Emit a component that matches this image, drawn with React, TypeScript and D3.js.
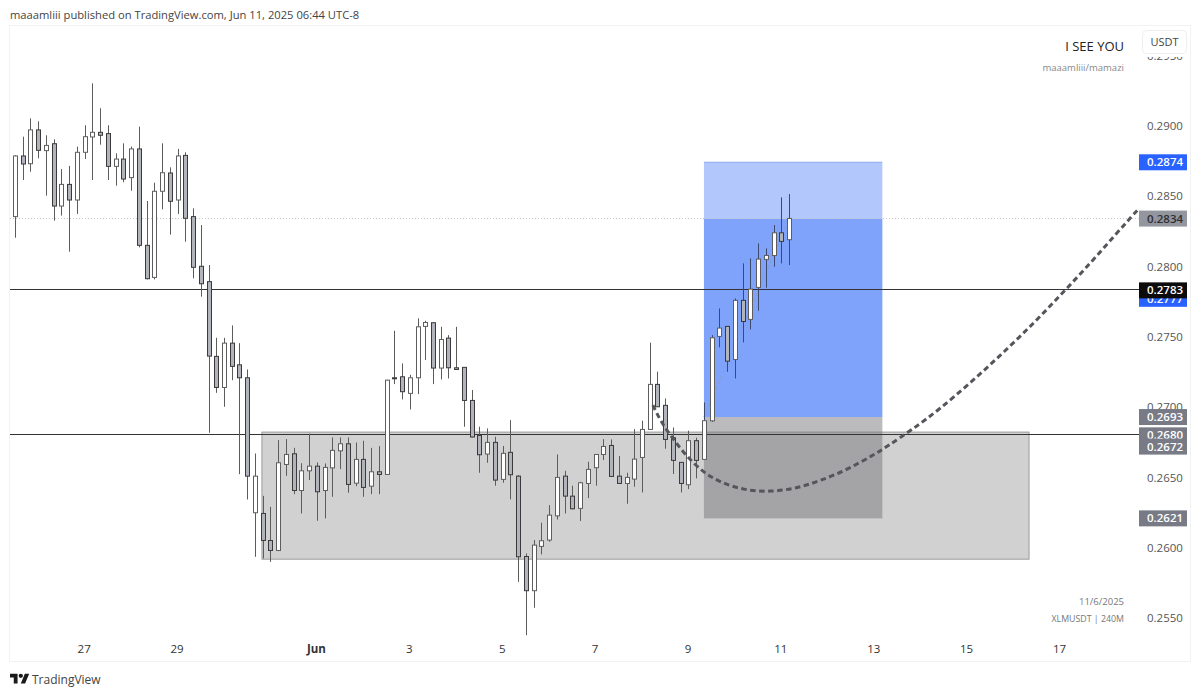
import React, { useEffect, useRef } from 'react';
import * as d3 from 'd3';

const opens = [
  0.28354, 0.28785, 0.2873, 0.2897, 0.28823, 0.28872, 0.28429, 0.28583, 0.28472, 0.28811,
  0.2892, 0.28953, 0.28944, 0.28711, 0.28763, 0.28631, 0.28835, 0.2815, 0.27922, 0.28534,
  0.28664, 0.28472, 0.28789, 0.28354, 0.28001, 0.27892, 0.27361, 0.2714, 0.27455, 0.27301,
  0.27209, 0.2625, 0.26245, 0.26053, 0.25982, 0.26593, 0.26669, 0.26408, 0.26548, 0.26581,
  0.26408, 0.26569, 0.2669, 0.2674, 0.2646, 0.26629, 0.26439, 0.26541, 0.26522, 0.27209,
  0.27216, 0.27098, 0.27209, 0.27574, 0.276, 0.27278, 0.27491, 0.2728, 0.27283, 0.27048,
  0.26799, 0.26667, 0.2675, 0.26487, 0.26679, 0.2651, 0.25939, 0.25696, 0.26011, 0.26056,
  0.26228, 0.2651, 0.26368, 0.26281, 0.26458, 0.2657, 0.26664, 0.26728, 0.2651, 0.26458,
  0.26489, 0.26643, 0.26842, 0.27162, 0.27013, 0.26783, 0.26608, 0.26449, 0.26762, 0.26629,
  0.26903, 0.27503, 0.27574, 0.27339, 0.27759, 0.27624, 0.27851, 0.2805, 0.28078, 0.28239, 0.2819,
];
const highs = [
  0.2879, 0.28922, 0.29052, 0.29031, 0.28932, 0.28903, 0.28692, 0.28714, 0.28851, 0.29003,
  0.29301, 0.29124, 0.29003, 0.28804, 0.28875, 0.28851, 0.28993, 0.28465, 0.28595, 0.28875,
  0.28704, 0.28835, 0.28811, 0.28413, 0.28294, 0.2801, 0.27493, 0.27493, 0.27581, 0.27455,
  0.27268, 0.26671, 0.2637, 0.26292, 0.26766, 0.26773, 0.26711, 0.26602, 0.26813, 0.26607,
  0.266, 0.26785, 0.26785, 0.26785, 0.26749, 0.26761, 0.26711, 0.26723, 0.27195, 0.27543,
  0.27311, 0.2723, 0.27631, 0.27614, 0.27602, 0.27571, 0.27512, 0.27571, 0.27283, 0.27122,
  0.26861, 0.26849, 0.2679, 0.26724, 0.26908, 0.26518, 0.25961, 0.26056, 0.26179, 0.26304,
  0.26664, 0.26548, 0.26442, 0.2647, 0.26612, 0.26664, 0.26773, 0.26771, 0.26653, 0.26534,
  0.26844, 0.26904, 0.27458, 0.27252, 0.27062, 0.26856, 0.2661, 0.26833, 0.26783, 0.27034,
  0.27512, 0.27702, 0.27576, 0.27773, 0.28022, 0.28057, 0.28164, 0.28128, 0.28294, 0.28491, 0.28514,
];
const lows = [
  0.28204, 0.28614, 0.28673, 0.28768, 0.28503, 0.28325, 0.28361, 0.28105, 0.28373, 0.28763,
  0.28614, 0.28865, 0.28614, 0.28574, 0.28598, 0.28538, 0.28136, 0.27908, 0.27908, 0.28406,
  0.28226, 0.28373, 0.28176, 0.27915, 0.27785, 0.26818, 0.27102, 0.27003, 0.27192, 0.26524,
  0.26344, 0.25937, 0.25925, 0.25901, 0.25977, 0.26512, 0.26382, 0.26245, 0.26482, 0.26193,
  0.2621, 0.26363, 0.2656, 0.26392, 0.26439, 0.26363, 0.26382, 0.26382, 0.2652, 0.27164,
  0.27055, 0.26984, 0.27093, 0.27335, 0.27164, 0.27197, 0.27204, 0.27265, 0.26861, 0.26786,
  0.26534, 0.26605, 0.26442, 0.26463, 0.26345, 0.25759, 0.2538, 0.25575, 0.25954, 0.26044,
  0.26202, 0.26245, 0.26274, 0.26191, 0.26354, 0.26442, 0.26624, 0.26506, 0.26455, 0.26314,
  0.26435, 0.26394, 0.2684, 0.27001, 0.26705, 0.26525, 0.26394, 0.26418, 0.26494, 0.26627,
  0.26896, 0.27425, 0.27252, 0.27204, 0.2746, 0.27552, 0.27685, 0.27849, 0.27998, 0.28022, 0.2801,
];
const closes = [
  0.28785, 0.28728, 0.2897, 0.28825, 0.2886, 0.28429, 0.28583, 0.28472, 0.28811, 0.28922,
  0.28953, 0.28932, 0.28711, 0.28763, 0.28621, 0.28835, 0.2815, 0.27913, 0.28534, 0.28666,
  0.28463, 0.28785, 0.28342, 0.27994, 0.27877, 0.27363, 0.2714, 0.27455, 0.2729, 0.27209,
  0.2651, 0.2651, 0.26053, 0.25982, 0.26605, 0.26664, 0.26408, 0.26548, 0.26581, 0.26399,
  0.26572, 0.26693, 0.2674, 0.26451, 0.26629, 0.2643, 0.26541, 0.26522, 0.27192, 0.27202,
  0.2711, 0.27209, 0.27571, 0.27602, 0.27278, 0.27481, 0.2728, 0.27268, 0.27048, 0.26788,
  0.26662, 0.2675, 0.26482, 0.26672, 0.2652, 0.25937, 0.25696, 0.2602, 0.26051, 0.26233,
  0.26501, 0.26368, 0.26278, 0.26463, 0.26558, 0.26664, 0.26721, 0.26508, 0.26458, 0.26501,
  0.26631, 0.26842, 0.27162, 0.27003, 0.26771, 0.26622, 0.26458, 0.26762, 0.26622, 0.26904,
  0.27493, 0.27562, 0.27327, 0.27759, 0.27609, 0.27839, 0.28052, 0.28078, 0.28239, 0.28178, 0.28341,
];

const priceTicks = [0.295, 0.29, 0.285, 0.28, 0.275, 0.27, 0.265, 0.26, 0.255];
const dayTicks = [9, 21, 39, 51, 63, 75, 87, 99, 111, 123, 135];
const dayLabels = ['27', '29', 'Jun', '3', '5', '7', '9', '11', '13', '15', '17'];

// drawn path of the projected move, candle index / price
const pathIdx = [
  82.4, 83.4, 84.8, 86.6, 88.9, 91.1, 94.1, 97.5, 101, 104, 107.4, 110.9, 112.8, 115.8, 119.3, 123.6, 127.8, 131.8,
  135.6, 139.3, 142.3, 145.1,
];
const pathPrice = [
  0.27015, 0.26901, 0.2679, 0.2666, 0.26537, 0.26466, 0.26411, 0.26397, 0.26423, 0.26477, 0.26553, 0.2666, 0.26726,
  0.26837, 0.26979, 0.27181, 0.27394, 0.27607, 0.27827, 0.28046, 0.28235, 0.28406,
];

// price labels on the scale, later ones sit on top
const labelPrices = [0.2874, 0.2834, 0.2777, 0.2783, 0.2693, 0.268, 0.2672, 0.2621];
const labelColors = ['#2962ff', '#93969e', '#2962ff', '#0b0b0b', '#787b86', '#787b86', '#787b86', '#787b86'];
const labelInk = ['#ffffff', '#2f2f33', '#ffffff', '#ffffff', '#ffffff', '#ffffff', '#ffffff', '#ffffff'];

const font = '"Open Sans", sans-serif';

const App: React.FC = () => {
  const svgRef = useRef<SVGSVGElement>(null);

  useEffect(() => {
    if (!svgRef.current) return;
    const svg = d3.select(svgRef.current);
    svg.selectAll('*').remove();

    const x = d3.scaleLinear().domain([0, 135]).range([15, 1060]);
    const y = d3.scaleLinear().domain([0.255, 0.29]).range([618.3, 125.7]);

    svg
      .append('text')
      .attr('x', 10)
      .attr('y', 19)
      .attr('font-family', font)
      .attr('font-size', 11.2)
      .attr('fill', '#444')
      .text('maaamliii published on TradingView.com, Jun 11, 2025 06:44 UTC-8');

    svg
      .append('rect')
      .attr('x', 9.5)
      .attr('y', 25.5)
      .attr('width', 1181)
      .attr('height', 636)
      .attr('fill', '#fff')
      .attr('stroke', '#f2f2f2');

    // price scale
    const yAxis = svg
      .append('g')
      .attr('transform', 'translate(1147,0)')
      .call(d3.axisRight(y).tickValues(priceTicks).tickSize(0).tickPadding(0).tickFormat(d3.format('.4f') as any));
    yAxis.select('.domain').remove();
    yAxis.selectAll('text').attr('font-family', font).attr('font-size', 11.5).attr('fill', '#555');

    // time scale
    const xAxis = svg
      .append('g')
      .attr('transform', 'translate(-1,645)')
      .call(
        d3
          .axisBottom(x)
          .tickValues(dayTicks)
          .tickSize(0)
          .tickPadding(0)
          .tickFormat((_, i) => dayLabels[i]),
      );
    xAxis.select('.domain').remove();
    xAxis
      .selectAll('text')
      .attr('font-family', font)
      .attr('font-size', 11.5)
      .attr('fill', '#333')
      .attr('font-weight', (_, i) => (dayLabels[i] === 'Jun' ? 700 : 400));

    // demand zone
    svg
      .append('rect')
      .attr('x', x(31.9))
      .attr('y', y(0.26823))
      .attr('width', x(131) - x(31.9))
      .attr('height', y(0.2592) - y(0.26823))
      .attr('fill', '#d1d1d1')
      .attr('stroke', '#9b9b9b');

    // long position box
    const boxX = x(89);
    const boxW = x(112.05) - x(89);
    const box = (top: number, bottom: number, fill: string) =>
      svg
        .append('rect')
        .attr('x', boxX)
        .attr('y', y(top))
        .attr('width', boxW)
        .attr('height', y(bottom) - y(top))
        .attr('fill', fill);
    box(0.2874, 0.2834, '#b2c7fc');
    box(0.2834, 0.2693, '#7fa3fb');
    box(0.2693, 0.2621, 'rgba(120,120,123,0.5)');

    svg
      .append('line')
      .attr('x1', boxX)
      .attr('x2', boxX + boxW)
      .attr('y1', y(0.2874))
      .attr('y2', y(0.2874))
      .attr('stroke', '#8ea9f0');

    // last price line
    svg
      .append('line')
      .attr('x1', 10)
      .attr('x2', 1139)
      .attr('y1', y(0.2834))
      .attr('y2', y(0.2834))
      .attr('stroke', '#c4c4c4')
      .attr('stroke-dasharray', '1 2');

    // entry to last price, faint
    svg
      .append('line')
      .attr('x1', x(89))
      .attr('x2', x(100))
      .attr('y1', y(0.2693))
      .attr('y2', y(0.2834))
      .attr('stroke', '#8c9cc4')
      .attr('stroke-dasharray', '3 3');

    // levels
    [0.27836, 0.268].forEach((level) => {
      svg
        .append('line')
        .attr('x1', 10)
        .attr('x2', 1139)
        .attr('y1', Math.round(y(level)) - 0.5)
        .attr('y2', Math.round(y(level)) - 0.5)
        .attr('stroke', '#333')
        .attr('stroke-width', 1);
    });

    // candles
    const candles = svg
      .append('g')
      .selectAll('g')
      .data(d3.range(opens.length))
      .join('g')
      .attr('transform', (i) => `translate(${Math.round(x(i))},0)`);

    candles
      .append('line')
      .attr('x1', 0.5)
      .attr('x2', 0.5)
      .attr('y1', (i) => y(highs[i]))
      .attr('y2', (i) => y(lows[i]))
      .attr('stroke', (i) => (i >= 89 ? '#3c4a70' : '#5c5c5c'))
      .attr('stroke-width', 1);

    candles
      .append('rect')
      .attr('x', -1.5)
      .attr('width', 4)
      .attr('y', (i) => y(Math.max(opens[i], closes[i])))
      .attr('height', (i) => Math.max(1, Math.abs(y(opens[i]) - y(closes[i]))))
      .attr('fill', (i) => (closes[i] >= opens[i] ? '#fff' : '#b1b4ba'))
      .attr('stroke', (i) => (closes[i] >= opens[i] ? '#5e5e5e' : '#3a3a3a'))
      .attr('stroke-width', 1);

    // projected path
    const path = d3
      .line<number>()
      .x((i) => x(pathIdx[i]))
      .y((i) => y(pathPrice[i]))
      .curve(d3.curveBasis);

    svg
      .append('path')
      .datum(d3.range(pathIdx.length))
      .attr('d', path)
      .attr('fill', 'none')
      .attr('stroke', '#55555b')
      .attr('stroke-width', 3)
      .attr('stroke-dasharray', '5.5 3.5');

    // scale labels
    const labels = svg
      .append('g')
      .selectAll('g')
      .data(labelPrices)
      .join('g')
      .attr('transform', (d) => `translate(1139,${y(d)})`);
    labels
      .append('rect')
      .attr('y', -8)
      .attr('width', 48)
      .attr('height', 16)
      .attr('fill', (_, i) => labelColors[i]);
    labels
      .append('text')
      .attr('x', 8)
      .attr('dy', '0.35em')
      .attr('font-family', font)
      .attr('font-size', 11.5)
      .attr('font-weight', 600)
      .attr('fill', (_, i) => labelInk[i])
      .text((d) => d3.format('.4f')(d));

    // currency button covers the top tick
    svg.append('rect').attr('x', 1140).attr('y', 28).attr('width', 49).attr('height', 29).attr('fill', '#fff');
    svg
      .append('rect')
      .attr('x', 1142.5)
      .attr('y', 30.5)
      .attr('width', 44)
      .attr('height', 23)
      .attr('rx', 4)
      .attr('fill', '#fff')
      .attr('stroke', '#eeeeee');
    svg
      .append('text')
      .attr('x', 1164.5)
      .attr('y', 46)
      .attr('text-anchor', 'middle')
      .attr('font-family', font)
      .attr('font-size', 11)
      .attr('fill', '#444')
      .text('USDT');

    const note = (text: string, py: number, size: number, fill: string) =>
      svg
        .append('text')
        .attr('x', 1124)
        .attr('y', py)
        .attr('text-anchor', 'end')
        .attr('font-family', font)
        .attr('font-size', size)
        .attr('fill', fill)
        .text(text);
    note('I SEE YOU', 51, 13, '#222');
    note('maaamliii/mamazi', 71, 9.5, '#888');
    note('11/6/2025', 605, 9.5, '#777');
    note('XLMUSDT | 240M', 622, 8.8, '#777');

    // logo
    const logo = svg.append('g').attr('transform', 'translate(10,671.5) scale(0.54)').attr('fill', '#1a1a1a');
    logo.append('path').attr('d', 'M14 22H7V11H0V4h14v18zM28 22h-8l7.5-18h8L28 22z');
    logo.append('circle').attr('cx', 20).attr('cy', 8).attr('r', 4);
    svg
      .append('text')
      .attr('x', 32)
      .attr('y', 684)
      .attr('font-family', font)
      .attr('font-size', 12)
      .attr('fill', '#444')
      .text('TradingView');
  }, []);

  return <svg ref={svgRef} width={1200} height={696} style={{ position: 'absolute', left: 0, top: 0 }} />;
};

export default App;
